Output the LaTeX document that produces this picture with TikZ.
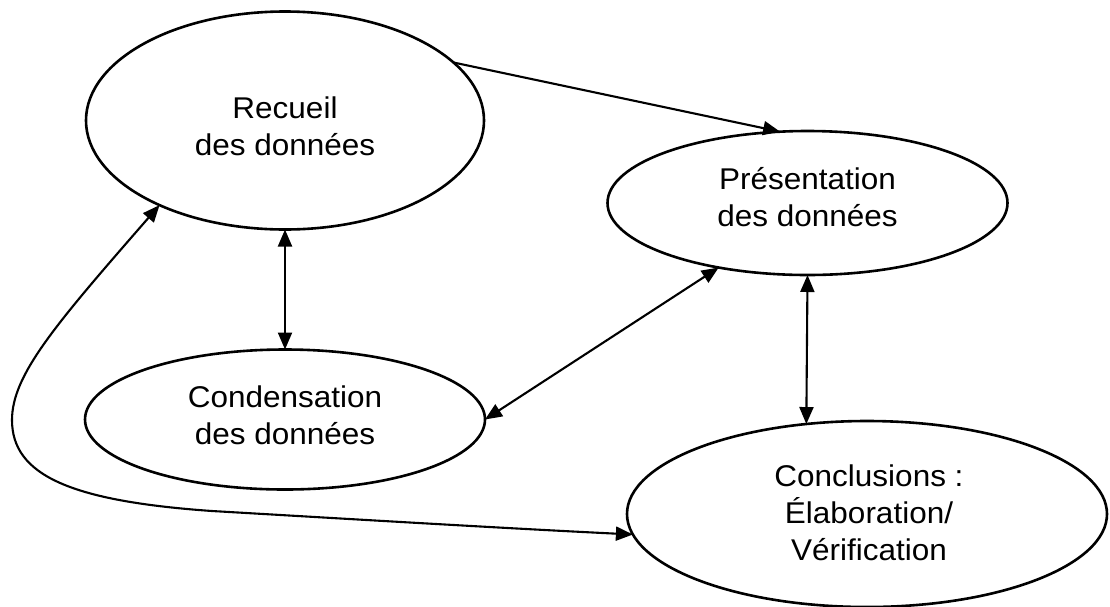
\documentclass[tikz,border=0pt]{standalone}
\usepackage{fontspec}
\setmainfont{Liberation Sans}[FakeStretch=1.05]
\usetikzlibrary{shapes.geometric,arrows.meta}
\begin{document}
\begin{tikzpicture}[x=1pt,y=-1pt,
  bubble/.style={draw=black,line width=2.6pt,shape=ellipse,inner sep=0pt,outer sep=0pt},
  lbl/.style={font=\fontsize{30}{37}\selectfont,align=center,inner sep=0pt},
  conn/.style={line width=2.1pt,draw=black},
  onehead/.style={conn,-{Triangle[length=17pt,width=14pt]}},
  twohead/.style={conn,{Triangle[length=17pt,width=14pt]}-{Triangle[length=17pt,width=14pt]}}]
\fill[white] (0,0) rectangle (1110,606);
\useasboundingbox (0,0) rectangle (1110,606);
% ellipses
\node[bubble,minimum width=398pt,minimum height=218pt] (rec) at (285,120.5) {};
\node[bubble,minimum width=400pt,minimum height=144pt] (pres) at (807.5,203) {};
\node[bubble,minimum width=400pt,minimum height=140pt] (cond) at (285,419.5) {};
\node[bubble,minimum width=480pt,minimum height=186pt] (concl) at (867,514) {};
% texts
\node[lbl] (trec) at (285,126) {Recueil\\des données};
\node[lbl] (tpres) at (807.5,197.5) {Présentation\\des données};
\node[lbl] (tcond) at (285,415.5) {Condensation\\des données};
\node[lbl] (tconcl) at (869,512.5) {Conclusions :\\Élaboration/\\Vérification};
% connectors
\draw[onehead] (rec.19.6) -- (pres.111);
\draw[twohead] (rec.south) -- (cond.north);
\draw[twohead] (pres.216) -- (cond.east);
\draw[twohead] (pres.south) -- (concl.124);
\draw[twohead] (rec.214) .. controls (55,325) and (12,375) .. (12,420)
  .. controls (12,475) and (70,501) .. (212,511)
  .. controls (350,519) and (500,528) .. (concl.185);
\end{tikzpicture}
\end{document}
